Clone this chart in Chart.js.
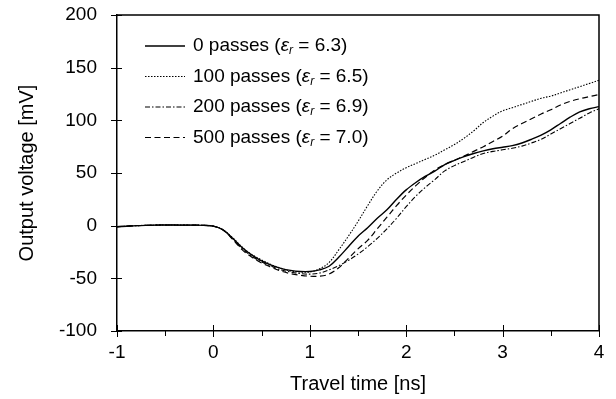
<!DOCTYPE html>
<html>
<head>
<meta charset="utf-8">
<script src="https://cdn.jsdelivr.net/npm/chart.js@4.4.1/dist/chart.umd.min.js"></script>
<style>
  html, body { margin: 0; padding: 0; background: #fff; }
  #wrap { width: 616px; height: 399px; }
</style>
</head>
<body>
<div id="wrap"><canvas id="chart" width="616" height="399"></canvas></div>
<script>
// travel time [ns]
var times = [-1.0,-0.9,-0.8,-0.7,-0.6,-0.5,-0.4,-0.3,-0.2,-0.1,
              0.0, 0.1, 0.2, 0.3, 0.4, 0.5, 0.6, 0.7, 0.8, 0.9,
              1.0, 1.1, 1.2, 1.3, 1.4, 1.5, 1.6, 1.7, 1.8, 1.9,
              2.0, 2.1, 2.2, 2.3, 2.4, 2.5, 2.6, 2.7, 2.8, 2.9,
              3.0, 3.1, 3.2, 3.3, 3.4, 3.5, 3.6, 3.7, 3.8, 3.9, 4.0];

// output voltage [mV]
var pass0 = [-1,-0.5,0,0.3,0.5,0.6,0.6,0.5,0.5,0.3,
             -0.5,-4,-12,-21,-28,-33.5,-37.5,-40.5,-42.5,-43.5,
             -43.5,-42,-38.5,-30,-20,-10,-2,7,15,25,
             34,41,47,52,58,62,65.5,68.5,71,73,
             74.5,76,78.5,82,86,91,97,103,108,111,113];
var pass100 = [-1,-0.5,0,0.3,0.5,0.6,0.6,0.5,0.5,0.3,
               -0.5,-4,-11.5,-20.5,-27.5,-32.5,-37,-40.5,-43,-44,
               -44,-41,-35,-23,-10,4,19,33,43.5,50,
               55,59,63,67,72,77,83,90,98,104,
               109,112,115,118,121,123,126,129,132,135,138];
var pass200 = [-1,-0.5,0,0.3,0.5,0.6,0.6,0.5,0.5,0.3,
               -0.5,-4,-12.5,-22,-29,-34.5,-38.5,-42,-44,-45.5,
               -46,-45,-42,-38,-33,-27,-20,-12,-3,7,
               18,28,36.5,44,52,57,61,65,68.5,70.5,
               72,73.5,75.5,78.5,82,87,92,97,102,107,111];
var pass500 = [-1,-0.5,0,0.3,0.5,0.6,0.6,0.5,0.5,0.3,
               -0.5,-4,-13,-23,-30,-35.5,-39.5,-43,-45.5,-47,
               -48,-48,-46,-40,-31,-22,-14,-3,8,19,
               29,38,46,53,58,62,66,70.5,75,80,
               85,92,97,101.5,106,110,114.5,118,120.5,122.5,124.5];

var seriesNames = ['0 passes', '100 passes', '200 passes', '500 passes'];
var epsValues = ['6.3', '6.5', '6.9', '7.0'];
var xTicks = [-1, 0, 1, 2, 3, 4];
var yTicks = [-100, -50, 0, 50, 100, 150, 200];

var FONT = '"Liberation Sans", Arial, sans-serif';

function toPoints(ys) {
    return times.map(function (t, i) { return {x: t, y: ys[i]}; });
}

function lineSet(label, ys, dash, width) {
    return {
        label: label,
        data: toPoints(ys),
        borderColor: '#000',
        borderWidth: width,
        borderDash: dash,
        pointRadius: 0,
        tension: 0.35,
        fill: false
    };
}

// box on top/right, tick marks crossing the axes, minor x ticks
var frameTicks = {
    id: 'frameTicks',
    afterDraw: function (chart) {
        var ctx = chart.ctx, a = chart.chartArea;
        var xs = chart.scales.x, ys = chart.scales.y;
        ctx.save();
        ctx.strokeStyle = '#000';
        ctx.lineWidth = 1.5;
        ctx.setLineDash([]);
        ctx.beginPath();
        ctx.moveTo(a.left, a.top);
        ctx.lineTo(a.right, a.top);
        ctx.lineTo(a.right, a.bottom);
        ctx.stroke();

        ctx.lineWidth = 1;
        ctx.beginPath();
        yTicks.forEach(function (v) {
            var py = Math.round(ys.getPixelForValue(v)) + 0.5;
            ctx.moveTo(a.left - 6, py);
            ctx.lineTo(a.left + 5, py);
        });
        xTicks.forEach(function (v) {
            var px = Math.round(xs.getPixelForValue(v)) + 0.5;
            ctx.moveTo(px, a.bottom - 6);
            ctx.lineTo(px, a.bottom + 6);
        });
        for (var i = 0; i < xTicks.length - 1; i++) {
            var px = Math.round(xs.getPixelForValue(xTicks[i] + 0.5)) + 0.5;
            ctx.moveTo(px, a.bottom);
            ctx.lineTo(px, a.bottom + 5);
        }
        ctx.stroke();
        ctx.restore();
    }
};

// legend with line samples and italic epsilon_r
var sampleLegend = {
    id: 'sampleLegend',
    afterDraw: function (chart) {
        var ctx = chart.ctx, a = chart.chartArea;
        ctx.save();
        chart.data.datasets.forEach(function (ds, i) {
            var y = a.top + 31 + i * 30.5;
            ctx.strokeStyle = '#000';
            ctx.lineWidth = ds.borderWidth;
            ctx.setLineDash(ds.borderDash);
            ctx.beginPath();
            ctx.moveTo(a.left + 28, y);
            ctx.lineTo(a.left + 68, y);
            ctx.stroke();
            ctx.setLineDash([]);

            ctx.fillStyle = '#000';
            ctx.textBaseline = 'middle';
            ctx.textAlign = 'left';
            var x = a.left + 76;
            ctx.font = '19px ' + FONT;
            var s1 = seriesNames[i] + ' (';
            ctx.fillText(s1, x, y);
            x += ctx.measureText(s1).width;
            ctx.font = 'italic 19px ' + FONT;
            ctx.fillText('\u03b5', x, y);
            x += ctx.measureText('\u03b5').width;
            ctx.font = 'italic 12px ' + FONT;
            ctx.fillText('r', x, y + 5);
            x += ctx.measureText('r').width;
            ctx.font = '19px ' + FONT;
            ctx.fillText(' = ' + epsValues[i] + ')', x, y);
        });
        ctx.restore();
    }
};

var chart = new Chart(document.getElementById('chart').getContext('2d'), {
    type: 'line',
    data: {
        datasets: [
            lineSet(seriesNames[0], pass0, [], 1.4),
            lineSet(seriesNames[1], pass100, [1.5, 1.5], 1.1),
            lineSet(seriesNames[2], pass200, [5, 2, 1.5, 2], 1.1),
            lineSet(seriesNames[3], pass500, [6, 3.5], 1.2)
        ]
    },
    options: {
        responsive: false,
        animation: false,
        events: [],
        layout: { padding: { top: 15, right: 17, left: 0, bottom: 0 } },
        plugins: {
            legend: { display: false },
            tooltip: { enabled: false }
        },
        scales: {
            x: {
                type: 'linear',
                min: -1,
                max: 4,
                afterFit: function (scale) {
                    scale.height = 68;
                    scale.paddingLeft = 0;
                    scale.paddingRight = 0;
                },
                afterBuildTicks: function (scale) {
                    scale.ticks = xTicks.map(function (v) { return {value: v}; });
                },
                grid: { display: true, drawOnChartArea: false, drawTicks: false },
                border: { display: true, color: '#000', width: 1.5 },
                ticks: {
                    color: '#000',
                    padding: 10,
                    maxRotation: 0,
                    font: { family: FONT, size: 19 }
                },
                title: {
                    display: true,
                    text: 'Travel time [ns]',
                    color: '#000',
                    padding: { top: 0, bottom: 3 },
                    font: { family: FONT, size: 20 }
                }
            },
            y: {
                type: 'linear',
                min: -100,
                max: 200,
                afterFit: function (scale) {
                    scale.width = 117;
                    scale.paddingTop = 0;
                    scale.paddingBottom = 0;
                },
                afterBuildTicks: function (scale) {
                    scale.ticks = yTicks.map(function (v) { return {value: v}; });
                },
                grid: { display: true, drawOnChartArea: false, drawTicks: false },
                border: { display: true, color: '#000', width: 1.5 },
                ticks: {
                    color: '#000',
                    padding: 20,
                    font: { family: FONT, size: 19 }
                },
                title: {
                    display: true,
                    text: 'Output voltage [mV]',
                    color: '#000',
                    padding: { top: 15, bottom: 0 },
                    font: { family: FONT, size: 20 }
                }
            }
        }
    },
    plugins: [frameTicks, sampleLegend]
});
</script>
</body>
</html>
